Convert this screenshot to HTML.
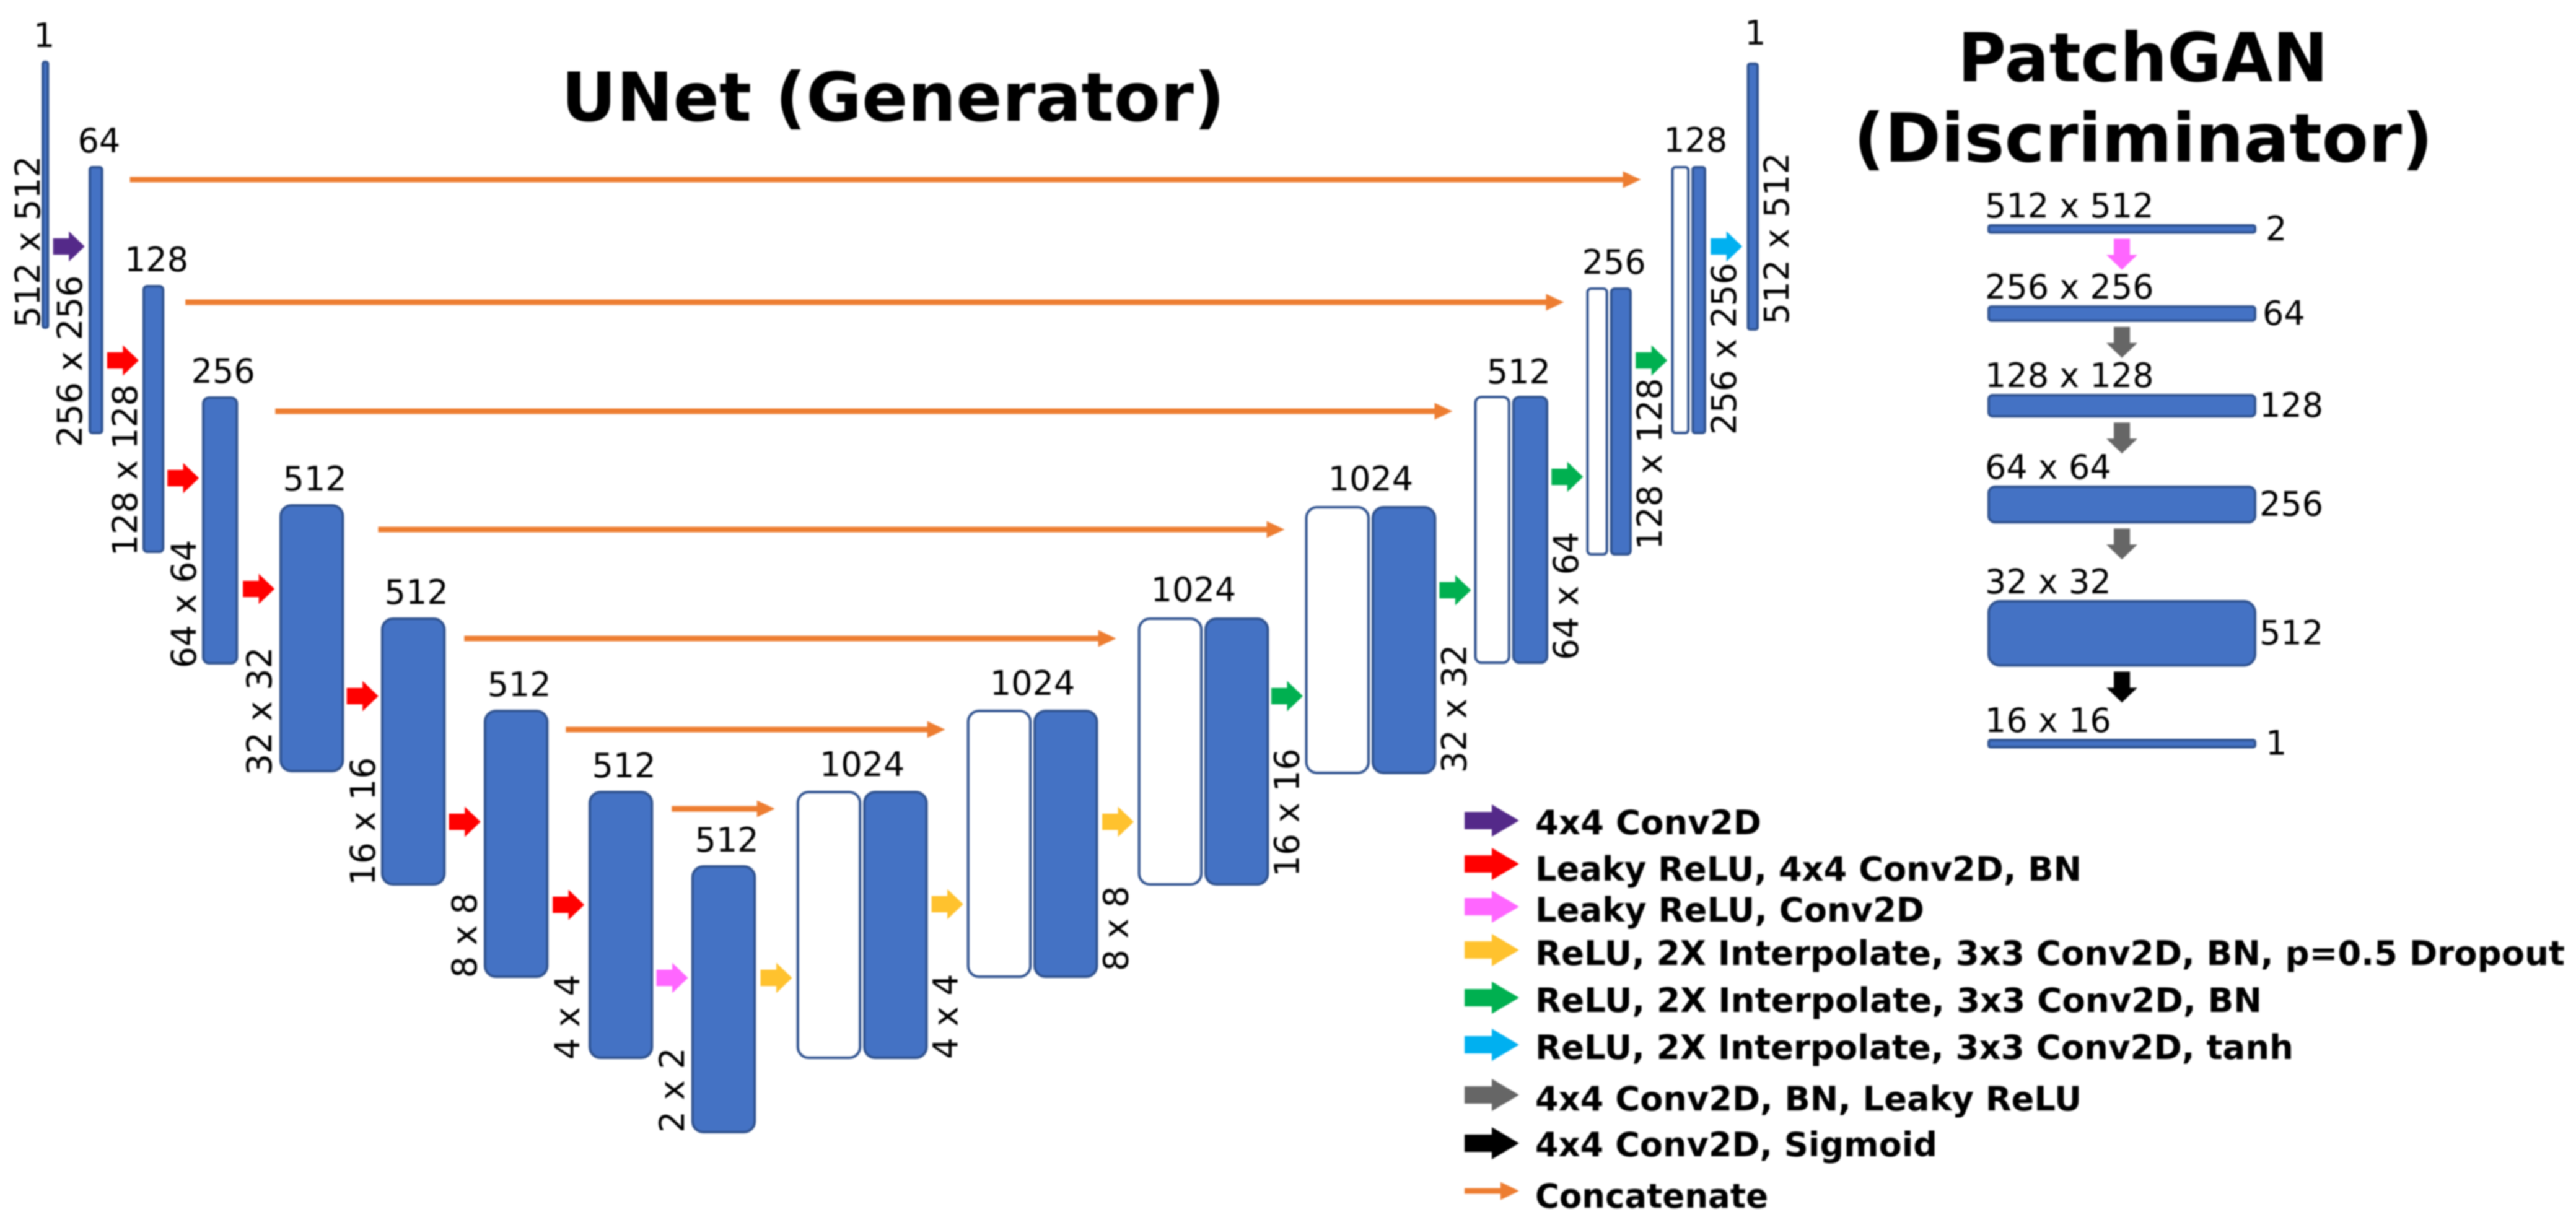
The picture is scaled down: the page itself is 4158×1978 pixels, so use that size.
<!DOCTYPE html>
<html lang="en">
<head>
<meta charset="utf-8">
<title>UNet (Generator) and PatchGAN (Discriminator)</title>
<style>
html,body{margin:0;padding:0;background:#fff;}
body{width:4158px;height:1978px;overflow:hidden;}
svg{display:block;filter:blur(1.2px);}
text{font-family:"DejaVu Sans","Liberation Sans",sans-serif;fill:#000;}
.title{font-weight:700;font-size:109px;}
.legend-text{font-weight:700;font-size:54px;}
.lbl{font-size:54px;}
.lbl-size{font-size:55px;}
</style>
</head>
<body>
<svg id="diagram" xmlns="http://www.w3.org/2000/svg" width="4158" height="1978" viewBox="0 0 4158 1978">
  <rect x="0" y="0" width="4158" height="1978" fill="#ffffff"/>
  <text class="title" x="906" y="195" textLength="1071" lengthAdjust="spacingAndGlyphs">UNet (Generator)</text>
  <text class="title" x="3160" y="131" textLength="598" lengthAdjust="spacingAndGlyphs">PatchGAN</text>
  <text class="title" x="2992" y="261" textLength="935" lengthAdjust="spacingAndGlyphs">(Discriminator)</text>
</svg>
<script>
// ---- data: channel counts, sizes, operations ----
const encoderChannels = [1, 64, 128, 256, 512, 512, 512, 512, 512];
const decoderChannels = [1024, 1024, 1024, 1024, 512, 256, 128, 1];
const encoderSizes = ['512 x 512', '256 x 256', '128 x 128', '64 x 64', '32 x 32', '16 x 16', '8 x 8', '4 x 4', '2 x 2'];
const decoderSizes = ['4 x 4', '8 x 8', '16 x 16', '32 x 32', '64 x 64', '128 x 128', '256 x 256', '512 x 512'];
const unetOps = ['conv', 'leaky', 'leaky', 'leaky', 'leaky', 'leaky', 'leaky', 'leakyConv', 'drop', 'drop', 'drop', 'up', 'up', 'up', 'up', 'tanh'];
const patchChannels = [2, 64, 128, 256, 512, 1];
const patchSizes = ['512 x 512', '256 x 256', '128 x 128', '64 x 64', '32 x 32', '16 x 16'];
const patchOps = ['leakyConv', 'bn', 'bn', 'bn', 'sigmoid'];
const legendLabels = ['4x4 Conv2D', 'Leaky ReLU, 4x4 Conv2D, BN', 'Leaky ReLU, Conv2D', 'ReLU, 2X Interpolate, 3x3 Conv2D, BN, p=0.5 Dropout', 'ReLU, 2X Interpolate, 3x3 Conv2D, BN', 'ReLU, 2X Interpolate, 3x3 Conv2D, tanh', '4x4 Conv2D, BN, Leaky ReLU', '4x4 Conv2D, Sigmoid', 'Concatenate'];
const legendOps = ['conv', 'leaky', 'leakyConv', 'drop', 'up', 'tanh', 'bn', 'sigmoid', 'concat'];

// ---- layout (not data): staircase placement of the hand-drawn diagram ----
const encoderTopsLayout = [98, 268, 460, 640, 814, 997, 1146, 1277, 1397];
const decoderTopsLayout = [1277, 1146, 997, 817, 639, 464, 268, 101];
const stageGapsLayout = [63.6, 63.3, 60.8, 66.7, 59.6, 61.6, 64.6, 61.6, 65.6, 63.2, 64.2, 58.2, 61.2, 61.4, 63.6, 65.6];
const arrowMidLayout = [398, 582, 772, 951, 1124, 1327, 1461, 1579, 1579, 1460, 1327, 1124, 953, 770, 582, 398];
const concatStartPad = [43, 34, 60, 55, 30, 28, 30];
const concatEndPad = [49, 36, 35, 33, 35, 35, 35];
const concatDrop = [22, 28, 24, 41, 34, 32, 29];
const encSizeInset = [3, 11, 9, 10, 13, 10, 12, 15, 12];
const encSizeDrop = [-2, 21, 5, 6, 5, 0, 0, 1, -1];
const decSizeLift = [0, 11, 14, 2, 6, 9, -1, 10];
const decChannelNudge = [0, 0, -16, 0, 12, 8, 8, 0];
const decChannelLift = [24, 24, 26, 25, 20, 22, 23, 29];
const decWhiteExtra = [0, 0, 0, 0, 0, 0, 6, 0];
const outputExtraWidth = 7;
const patchTopsLayout = [362, 493, 636, 784, 969, 1193];
const legendBaselines = [1347, 1422, 1488, 1558, 1634, 1710, 1793, 1867, 1950];
const legendArrowMids = [1325, 1395, 1464, 1534, 1611, 1687, 1768, 1846, 1923];
const legendTextWidths = [365, 882, 628, 1662, 1173, 1224, 882, 649, 376];

const opColors = {conv:'#542989', leaky:'#ff0000', leakyConv:'#ff66ff', drop:'#ffc22e', up:'#00b050', tanh:'#00b0f0', bn:'#666666', sigmoid:'#000000', concat:'#ed7d31'};

const svg = document.getElementById('diagram');
const NS = 'http://www.w3.org/2000/svg';
const BAR_HEIGHT = 433;
const INNER_GAP = 3;
const BLUE = '#4472c4';
const EDGE = '#2f528f';

// channel count -> thickness of the block
function thickness(channels) { return 12.2 + 0.18 * channels; }

function make(tag, name, attrs) {
  const el = document.createElementNS(NS, tag);
  
  
  for (const k in attrs) el.setAttribute(k, attrs[k]);
  svg.appendChild(el);
  return el;
}
function block(name, x, y, w, h, fill) {
  const r = Math.max(3, Math.min(w, h) / 6);
  make('rect', name, {x: x + 2, y: y + 2, width: w - 4, height: h - 4, rx: r, ry: r, fill: fill, stroke: EDGE, 'stroke-width': 4});
}
function label(name, str, x, y, anchor, rotate) {
  const attrs = {class: rotate ? 'lbl-size' : 'lbl', x: x, y: y, 'text-anchor': anchor};
  if (rotate) attrs.transform = 'rotate(-90 ' + x + ' ' + y + ')';
  const t = make('text', name, attrs);
  t.textContent = str;
}
function rightArrow(name, cx, cy, w, h, color) {
  const x0 = cx - w / 2, x1 = cx + w / 2, xm = x0 + w * 0.5, s = h * 0.27;
  const pts = [[x0, cy - s], [xm, cy - s], [xm, cy - h / 2], [x1, cy], [xm, cy + h / 2], [xm, cy + s], [x0, cy + s]];
  make('polygon', name, {points: pts.map(p => p.join(',')).join(' '), fill: color});
}
function downArrow(name, cx, top, w, h, color) {
  const y1 = top + h, ym = top + h * 0.52, s = w * 0.26;
  const pts = [[cx - s, top], [cx + s, top], [cx + s, ym], [cx + w / 2, ym], [cx, y1], [cx - w / 2, ym], [cx - s, ym]];
  make('polygon', name, {points: pts.map(p => p.join(',')).join(' '), fill: color});
}
function lineArrow(name, x0, x1, y, color, thick, headLen, headH) {
  const pts = [[x0, y - thick / 2], [x1 - headLen, y - thick / 2], [x1 - headLen, y - headH / 2], [x1, y], [x1 - headLen, y + headH / 2], [x1 - headLen, y + thick / 2], [x0, y + thick / 2]];
  make('polygon', name, {points: pts.map(p => p.join(',')).join(' '), fill: color});
}

// ---- UNet encoder ----
let cursor = 67;
const stageLeft = [], stageRight = [];
encoderChannels.forEach(function (c, i) {
  const w = thickness(c);
  const top = encoderTopsLayout[i];
  block('encoder-block-' + (i + 1), cursor, top, w, BAR_HEIGHT, BLUE);
  label('encoder-channels-' + (i + 1), String(c), cursor + w / 2 + (i === 0 ? -2 : 5), top - 22, 'middle', false);
  label('encoder-size-' + (i + 1), encoderSizes[i], cursor - encSizeInset[i], top + BAR_HEIGHT + encSizeDrop[i], 'start', true);
  stageLeft.push(cursor);
  stageRight.push(cursor + w);
  cursor += w + stageGapsLayout[i];
});

// ---- UNet decoder ----
decoderChannels.forEach(function (c, i) {
  const idx = encoderChannels.length + i;
  const top = decoderTopsLayout[i];
  let total, boundary;
  if (c === 1) {
    total = thickness(c) + outputExtraWidth;
    boundary = cursor + total / 2 + 4;
    block('output-block', cursor, top, total, BAR_HEIGHT, BLUE);
  } else {
    const half = thickness(c / 2);
    const whiteW = half + decWhiteExtra[i];
    total = whiteW + half + INNER_GAP;
    boundary = cursor + whiteW + INNER_GAP / 2;
    block('decoder-concat-block-' + (i + 1), cursor, top, whiteW, BAR_HEIGHT, '#ffffff');
    block('decoder-block-' + (i + 1), cursor + whiteW + INNER_GAP, top, half, BAR_HEIGHT, BLUE);
  }
  label('decoder-channels-' + (i + 1), String(c), boundary + decChannelNudge[i], top - decChannelLift[i], 'middle', false);
  label('decoder-size-' + (i + 1), decoderSizes[i], cursor + total + 48, top + BAR_HEIGHT - decSizeLift[i], 'start', true);
  stageLeft.push(cursor);
  stageRight.push(cursor + total);
  if (i < decoderChannels.length - 1) cursor += total + stageGapsLayout[idx];
});

// ---- UNet operation arrows ----
unetOps.forEach(function (op, i) {
  const cx = (stageRight[i] + stageLeft[i + 1]) / 2;
  rightArrow('unet-arrow-' + op + '-' + (i + 1), cx, arrowMidLayout[i], 51, 49, opColors[op]);
});

// ---- skip connections: encoder stage k to its mirrored decoder stage ----
concatStartPad.forEach(function (pad, i) {
  const enc = i + 1;
  const dec = stageLeft.length - 2 - i;
  const x0 = stageRight[enc] + pad;
  const x1 = stageLeft[dec] - concatEndPad[i];
  lineArrow('concat-arrow-' + (i + 1), x0, x1, encoderTopsLayout[enc] + concatDrop[i], opColors.concat, 9, 29, 27);
});

// ---- PatchGAN ----
const PATCH_LEFT = 3208, PATCH_WIDTH = 434;
patchChannels.forEach(function (c, i) {
  const h = thickness(c) + 3;
  const top = patchTopsLayout[i];
  const mid = top + h / 2;
  block('patch-block-' + (i + 1), PATCH_LEFT, top, PATCH_WIDTH, h, BLUE);
  label('patch-size-' + (i + 1), patchSizes[i], PATCH_LEFT - 4, top - 11, 'start', false);
  const digits = String(c).length;
  label('patch-channels-' + (i + 1), String(c), PATCH_LEFT + PATCH_WIDTH + 20 - 5 * digits, mid + 18, 'start', false);
  if (i < patchOps.length) {
    downArrow('patch-arrow-' + patchOps[i] + '-' + (i + 1), PATCH_LEFT + 217, top + h + 8, 50, 50, opColors[patchOps[i]]);
  }
});

// ---- legend ----
legendLabels.forEach(function (text, i) {
  const op = legendOps[i];
  if (op === 'concat') {
    lineArrow('legend-arrow-' + op, 2364, 2452, legendArrowMids[i], opColors[op], 9, 30, 29);
  } else {
    rightArrow('legend-arrow-' + op, 2408, legendArrowMids[i], 88, 52, opColors[op]);
  }
  const t = make('text', 'legend-entry-' + op, {class: 'legend-text', x: 2478, y: legendBaselines[i], textLength: legendTextWidths[i], lengthAdjust: 'spacingAndGlyphs'});
  t.textContent = text;
});
</script>
</body>
</html>
